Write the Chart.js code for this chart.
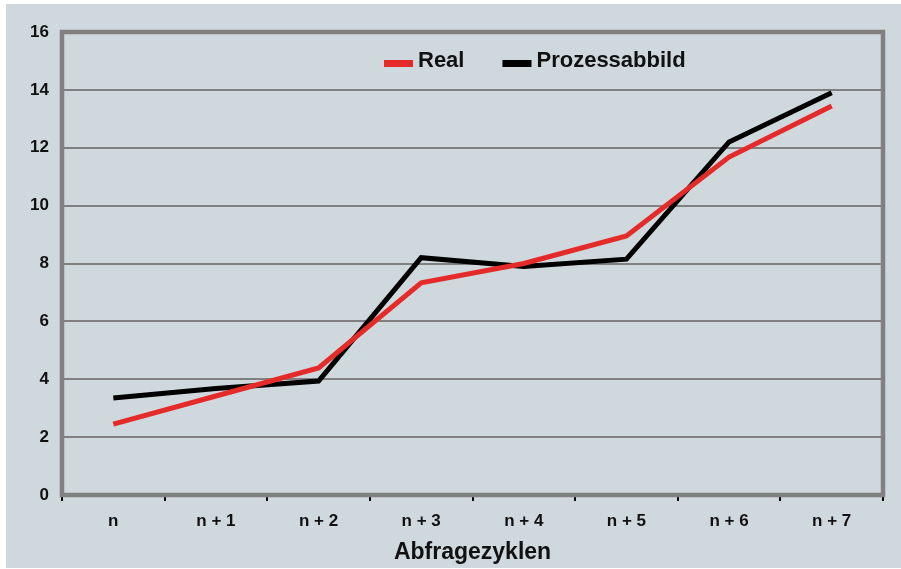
<!DOCTYPE html>
<html>
<head>
<meta charset="utf-8">
<script src="https://cdn.jsdelivr.net/npm/chart.js@4/dist/chart.umd.min.js"></script>
<style>
  html, body { margin: 0; padding: 0; background: #fff; }
  #wrap { width: 901px; height: 569px; position: relative; }
</style>
</head>
<body>
<div id="wrap"><canvas id="myChart" width="901" height="569"></canvas></div>
<script>
var categories = ['n', 'n + 1', 'n + 2', 'n + 3', 'n + 4', 'n + 5', 'n + 6', 'n + 7'];
var realValues = [2.45, 3.42, 4.39, 7.33, 8.0, 8.95, 11.68, 13.44];
var prozessValues = [3.35, 3.68, 3.94, 8.2, 7.9, 8.15, 12.2, 13.9];
var seriesNames = ['Real', 'Prozessabbild'];
var xTitle = 'Abfragezyklen';

var BG = '#cfd8dc';
var GRID = '#808080';
var RED = '#e52a2a';
var SANS = '"Liberation Sans", Arial, sans-serif';

// page background with the thin white edge
var backgroundPlugin = {
  id: 'bg',
  beforeDraw: function(chart) {
    var ctx = chart.ctx;
    ctx.save();
    ctx.fillStyle = '#fff';
    ctx.fillRect(0, 0, chart.width, chart.height);
    ctx.fillStyle = BG;
    ctx.fillRect(6, 4, chart.width - 6, chart.height - 5);
    ctx.restore();
  }
};

// gray frame round the plot area
var framePlugin = {
  id: 'frame',
  beforeDatasetsDraw: function(chart) {
    var a = chart.chartArea, ctx = chart.ctx;
    ctx.save();
    ctx.strokeStyle = GRID;
    ctx.lineWidth = 4.5;
    ctx.strokeRect(a.left, a.top, a.right - a.left, a.bottom - a.top);
    ctx.restore();
  }
};

// legend inside the plot area
var legendPlugin = {
  id: 'innerLegend',
  afterDraw: function(chart) {
    var a = chart.chartArea, ctx = chart.ctx;
    var x = a.left + 322;
    var base = a.top + 35;
    ctx.save();
    ctx.font = 'bold 22px ' + SANS;
    ctx.textBaseline = 'alphabetic';
    chart.data.datasets.forEach(function(ds) {
      ctx.fillStyle = ds.borderColor;
      ctx.fillRect(x, base - 7, 29, 7);
      x += 34;
      ctx.fillStyle = '#111';
      ctx.fillText(ds.label, x, base);
      x += ctx.measureText(ds.label).width + 38;
    });
    ctx.restore();
  }
};

var data = {
  labels: categories,
  datasets: [{
    label: seriesNames[0],
    data: realValues,
    borderColor: RED,
    backgroundColor: RED,
    borderWidth: 5,
    pointRadius: 0,
    tension: 0
  }, {
    label: seriesNames[1],
    data: prozessValues,
    borderColor: '#000',
    backgroundColor: '#000',
    borderWidth: 5,
    pointRadius: 0,
    tension: 0
  }]
};

var config = {
  type: 'line',
  data: data,
  options: {
    responsive: false,
    animation: false,
    layout: { padding: { top: 32, right: 18, left: 0, bottom: 0 } },
    plugins: {
      legend: { display: false },
      tooltip: { enabled: false }
    },
    scales: {
      x: {
        offset: true,
        border: { display: false },
        grid: {
          offset: true,
          drawOnChartArea: false,
          drawTicks: true,
          tickLength: 6,
          color: '#000',
          lineWidth: 2
        },
        ticks: {
          color: '#111',
          font: { family: SANS, size: 17, weight: 'bold' },
          padding: 10
        },
        title: {
          display: true,
          text: xTitle,
          color: '#111',
          font: { family: SANS, size: 23, weight: 'bold' },
          padding: { top: 6, bottom: 3 }
        },
        afterFit: function(scale) { scale.height = 74; }
      },
      y: {
        min: 0,
        max: 16,
        border: { display: false },
        grid: { color: GRID, lineWidth: 2, drawTicks: false },
        ticks: {
          stepSize: 2,
          color: '#111',
          font: { family: SANS, size: 17, weight: 'bold' },
          padding: 13
        },
        afterFit: function(scale) { scale.width = 62; }
      }
    }
  },
  plugins: [backgroundPlugin, framePlugin, legendPlugin]
};

var myChart = new Chart(document.getElementById('myChart'), config);
</script>
</body>
</html>
